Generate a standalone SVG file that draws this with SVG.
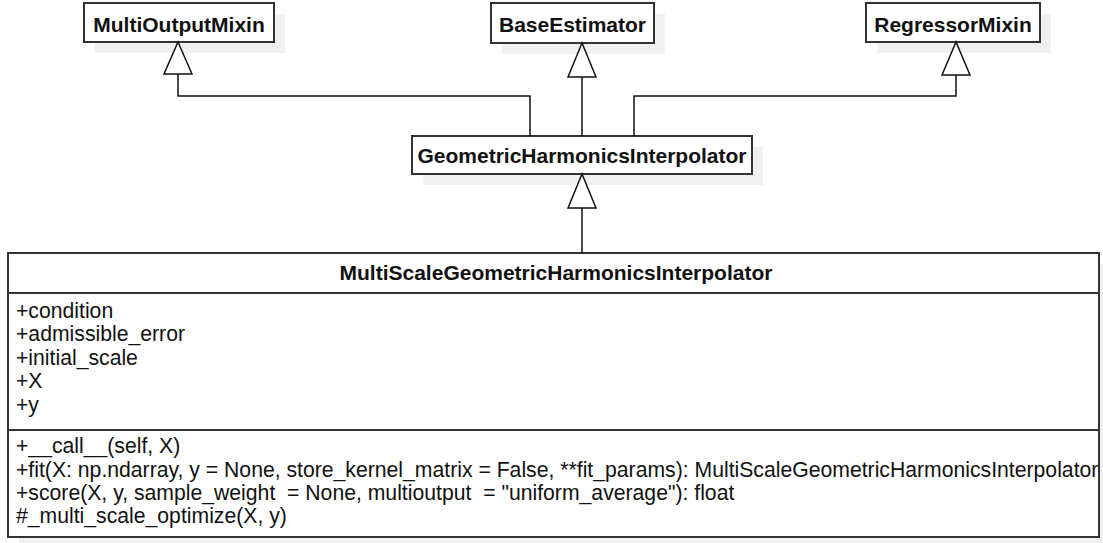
<svg xmlns="http://www.w3.org/2000/svg" width="1103" height="543" viewBox="0 0 1103 543">
<style>
.shadow{fill:#f0f0f0;stroke:none}
.box{fill:#ffffff;stroke:#333333;stroke-width:2}
.sep{stroke:#333333;stroke-width:2}
.title{font-family:"Liberation Sans",Arial,sans-serif;font-size:21px;font-weight:bold;fill:#111111}
.member{font-family:"Liberation Sans",Arial,sans-serif;font-size:21.2px;fill:#111111}
.edge{fill:none;stroke:#111111;stroke-width:1.5}
.head{fill:#ffffff;stroke:#111111;stroke-width:1.5}
</style>
<rect width="1103" height="543" fill="#ffffff"/>
<g id="MultiOutputMixin">
<rect class="shadow" x="95" y="14" width="190" height="39"/>
<rect class="box" x="84" y="3" width="190" height="39"/>
<text class="title" x="179" y="32" text-anchor="middle">MultiOutputMixin</text>
</g>
<g id="BaseEstimator">
<rect class="shadow" x="502" y="14" width="163" height="40"/>
<rect class="box" x="491" y="3" width="163" height="40"/>
<text class="title" x="572.5" y="32" text-anchor="middle">BaseEstimator</text>
</g>
<g id="RegressorMixin">
<rect class="shadow" x="877" y="14" width="174" height="39"/>
<rect class="box" x="866" y="3" width="174" height="39"/>
<text class="title" x="953" y="32" text-anchor="middle">RegressorMixin</text>
</g>
<g id="GeometricHarmonicsInterpolator">
<rect class="shadow" x="423" y="147" width="340" height="38"/>
<rect class="box" x="412" y="136" width="340" height="38"/>
<text class="title" x="582" y="162.5" text-anchor="middle">GeometricHarmonicsInterpolator</text>
</g>
<g id="MultiScaleGeometricHarmonicsInterpolator">
<rect class="shadow" x="19" y="264" width="1091" height="284"/>
<rect class="box" x="8" y="253" width="1091" height="284"/>
<line class="sep" x1="8" y1="293" x2="1099" y2="293"/>
<line class="sep" x1="8" y1="430" x2="1099" y2="430"/>
<text class="title" x="556" y="279.5" text-anchor="middle">MultiScaleGeometricHarmonicsInterpolator</text>
<text class="member" x="16" y="317.5">+condition</text>
<text class="member" x="16" y="341">+admissible_error</text>
<text class="member" x="16" y="364.5">+initial_scale</text>
<text class="member" x="16" y="388">+X</text>
<text class="member" x="16" y="411.5">+y</text>
<text class="member" x="16" y="453" xml:space="preserve">+__call__(self, X)</text>
<text class="member" x="16" y="476.5" xml:space="preserve">+fit(X: np.ndarray, y = None, store_kernel_matrix = False, **fit_params): MultiScaleGeometricHarmonicsInterpolator</text>
<text class="member" x="16" y="500" xml:space="preserve">+score(X, y, sample_weight  = None, multioutput  = "uniform_average"): float</text>
<text class="member" x="16" y="523" xml:space="preserve">#_multi_scale_optimize(X, y)</text>
</g>
<g id="connectors">
<polyline class="edge" points="178,74 178,96 530,96 530,136"/>
<polygon class="head" points="178,42 164,74 192,74"/>
<polyline class="edge" points="582,77 582,136"/>
<polygon class="head" points="582,43 568,77 596,77"/>
<polyline class="edge" points="956,75 956,96 634,96 634,136"/>
<polygon class="head" points="956,42 942,75 970,75"/>
<polyline class="edge" points="582,208 582,253"/>
<polygon class="head" points="582,174 568,208 596,208"/>
</g>
</svg>
